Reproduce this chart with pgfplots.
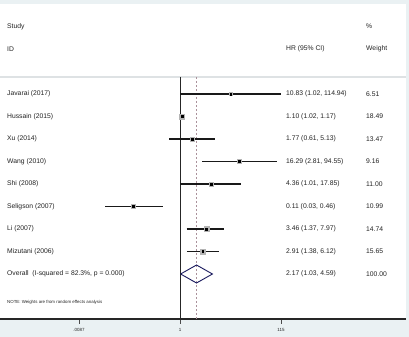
\documentclass[border=0pt]{standalone}
\usepackage{fontspec}
\setmainfont{Liberation Sans}
\usepackage{pgfplots}
\usepackage{pgfplotstable}
\pgfplotsset{compat=1.18}
\definecolor{bgout}{RGB}{234,241,243}
\definecolor{sepc}{RGB}{222,226,228}
\definecolor{dashc}{RGB}{170,145,155}
\definecolor{sqc}{RGB}{180,180,180}
\definecolor{navyd}{RGB}{26,26,94}
\definecolor{txt}{RGB}{35,35,35}

\pgfplotstableread{
est row w
10.83 9 6.51
1.10 8 18.49
1.77 7 13.47
16.29 6 9.16
4.36 5 11.00
0.11 4 10.99
3.46 3 14.74
2.91 2 15.65
}\studies

\newcommand{\rowtxt}[4]{%
  \node[anchor=west,inner sep=0pt,text=txt] at ({rel axis cs:0.01724,0}|-{axis cs:1,#1}) {#2};
  \node[anchor=west,inner sep=0pt,text=txt] at ({rel axis cs:0.7044,0}|-{axis cs:1,#1}) {#3};
  \node[anchor=west,inner sep=0pt,text=txt] at ({rel axis cs:0.9015,0}|-{axis cs:1,#1}) {#4};}

\begin{document}
\begin{tikzpicture}[font=\fontsize{6.8}{8}\selectfont]
\fill[bgout] (0,-18bp) rectangle (409bp,319bp);
\begin{axis}[
  at={(0,0)}, anchor=south west,
  scale only axis, width=406bp, height=315bp,
  xmode=log, xmin=2.132e-4, xmax=40680,
  ymin=-1, ymax=13,
  axis x line*=bottom, axis y line=none,
  axis line style={-, line width=1.2bp, black!85},
  axis background/.style={fill=white},
  xtick={0.0087,1,115}, xticklabels={.0087,1,115}, minor xtick={},
  tick align=outside, major tick length=4.5bp,
  tick style={black!70, line width=0.6bp},
  xticklabel style={font=\fontsize{4.5}{5}\selectfont, text=txt, yshift=-1.5bp},
  /pgf/number format/assume math mode=true,
  clip=false,
]
% separator
\addplot[sepc, line width=1.2bp] coordinates {(2.132e-4,9.756) (40680,9.756)};
% reference lines
\addplot[black!85, line width=0.7bp] coordinates {(1,9.756) (1,-1)};
\addplot[dashc, line width=0.9bp, dash pattern=on 2bp off 2bp] coordinates {(2.17,9.756) (2.17,-1)};
% CIs
\addplot[black!90, line width=1.1bp, unbounded coords=jump] coordinates {
 (1.02,9) (114.94,9) (nan,nan)
 (1.02,8) (1.17,8) (nan,nan)
 (0.61,7) (5.13,7) (nan,nan)
 (2.81,6) (94.55,6) (nan,nan)
 (1.01,5) (17.85,5) (nan,nan)
 (0.03,4) (0.46,4) (nan,nan)
 (1.37,3) (7.97,3) (nan,nan)
 (1.38,2) (6.12,2)
};
% weight squares
\addplot[only marks, mark=square*, scatter, point meta=explicit,
  scatter/use mapped color={draw=sqc, fill=sqc},
  visualization depends on={\thisrow{w} \as \wt},
  scatter/@pre marker code/.append style={/tikz/mark size={0.62*sqrt(\wt)}}]
  table[x=est, y=row, meta=w] {\studies};
% point estimates
\addplot[only marks, mark=square*, mark size=0.9bp, black] table[x=est, y=row] {\studies};
% diamond
\addplot[navyd, line width=0.9bp, line join=miter] coordinates {(1.03,1) (2.17,1.4) (4.59,1) (2.17,0.6) (1.03,1)};
% header
\node[anchor=west,inner sep=0pt,text=txt] at ({rel axis cs:0.01724,0}|-{axis cs:1,12}) {Study};
\node[anchor=west,inner sep=0pt,text=txt] at ({rel axis cs:0.9015,0}|-{axis cs:1,12}) {\%};
\rowtxt{11}{ID}{HR (95\% CI)}{Weight}
\rowtxt{9}{Javarai (2017)}{10.83 (1.02, 114.94)}{6.51}
\rowtxt{8}{Hussain (2015)}{1.10 (1.02, 1.17)}{18.49}
\rowtxt{7}{Xu (2014)}{1.77 (0.61, 5.13)}{13.47}
\rowtxt{6}{Wang (2010)}{16.29 (2.81, 94.55)}{9.16}
\rowtxt{5}{Shi (2008)}{4.36 (1.01, 17.85)}{11.00}
\rowtxt{4}{Seligson (2007)}{0.11 (0.03, 0.46)}{10.99}
\rowtxt{3}{Li (2007)}{3.46 (1.37, 7.97)}{14.74}
\rowtxt{2}{Mizutani (2006)}{2.91 (1.38, 6.12)}{15.65}
\rowtxt{1}{Overall\ \ (I-squared = 82.3\%, p = 0.000)}{2.17 (1.03, 4.59)}{100.00}
\node[anchor=west,inner sep=0pt,text=txt,font=\fontsize{4.4}{5}\selectfont] at ({rel axis cs:0.01724,0}|-{axis cs:1,-0.244}) {NOTE: Weights are from random effects analysis};
\end{axis}
\pgfresetboundingbox
\path (0,-18bp) rectangle (409bp,319bp);
\end{tikzpicture}
\end{document}
